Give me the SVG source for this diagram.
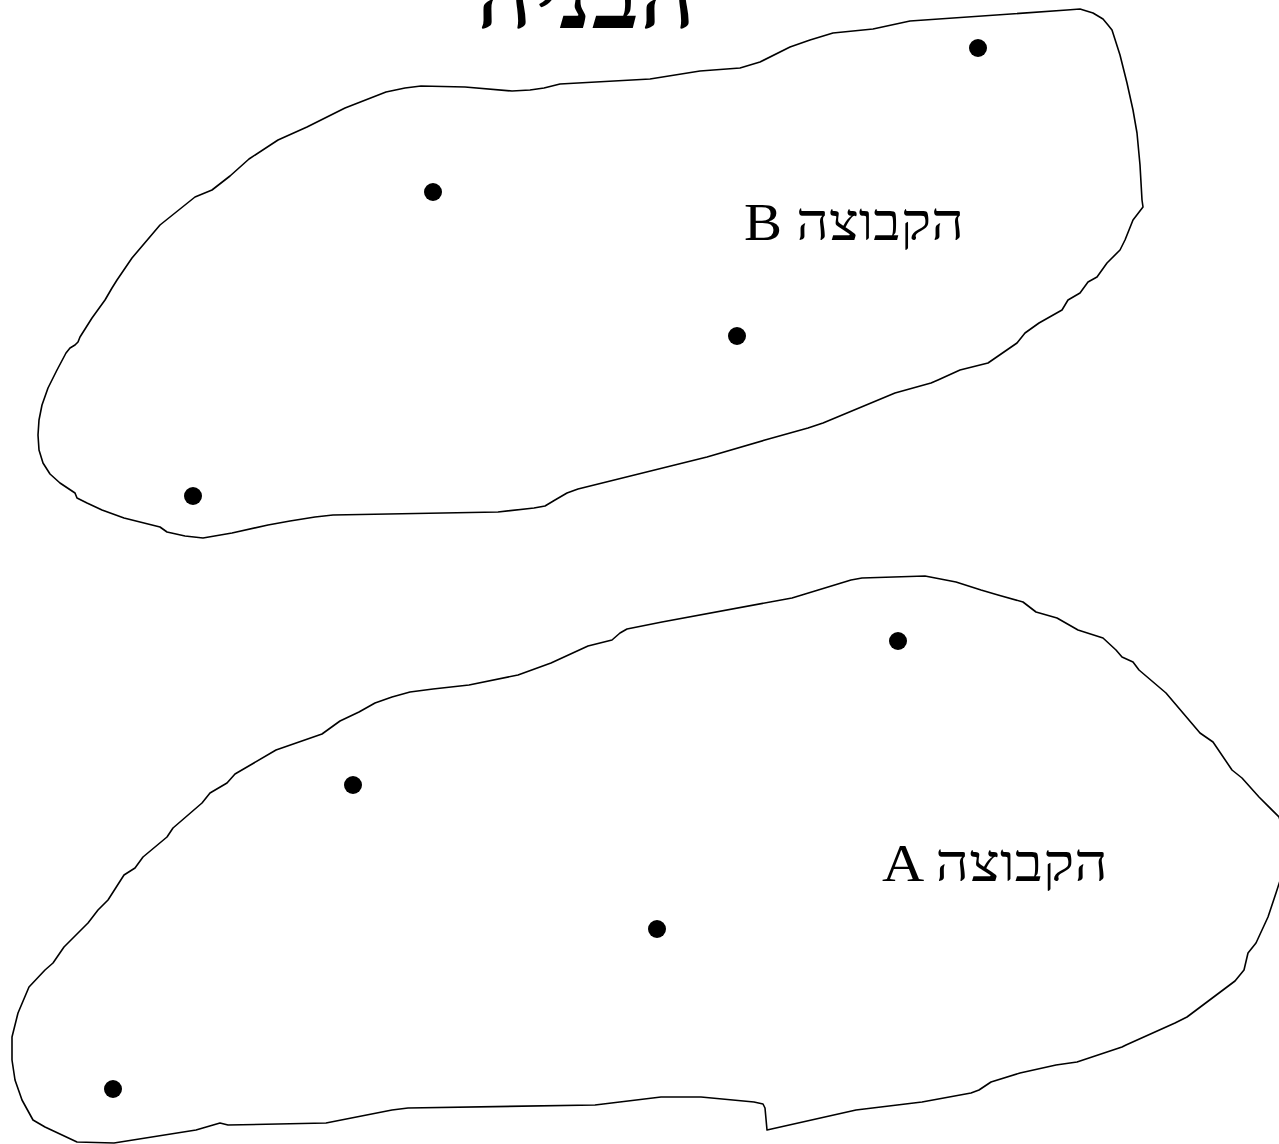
<svg xmlns="http://www.w3.org/2000/svg" width="1279" height="1144" viewBox="0 0 1279 1144">
<style>
.set{fill:none;stroke:#000;stroke-width:1.6;stroke-linejoin:round;stroke-linecap:round}
.pt{fill:#000}
.lbl{font-family:"Liberation Serif","Times New Roman",serif;font-size:53px;fill:#000}
.title{font-family:"Liberation Serif","Times New Roman",serif;font-size:88px;font-weight:bold;fill:#000}
</style>
<rect width="1279" height="1144" fill="#fff"/>
<text class="title" x="476" y="28" textLength="220" lengthAdjust="spacingAndGlyphs">הבניה</text>
<g id="setB">
<path class="set" d="M80,337 L92,318 L105,300 L112,288 L117,280 L132,258 L160,225 L195,197 L212,190 L230,176 L249,159 L278,140 L307,127 L345,108 L386,92 L405,88 L421,86 L465,87 L512,91 L530,90 L544,88 L560,84 L650,79 L700,71 L740,68 L760,62 L790,47 L810,40 L833,33 L873,29 L910,21 L1067,10 L1080,9 L1093,13 L1103,19 L1108,25 L1112,30 L1120,55 L1127,83 L1133,110 L1137,133 L1140,165 L1142,200 L1143,207 L1133,220 L1125,240 L1120,250 L1107,263 L1097,277 L1088,282 L1080,293 L1068,300 L1062,310 L1039,323 L1025,333 L1017,343 L988,363 L960,370 L938,380 L931,383 L895,393 L823,423 L808,428 L765,440 L707,457 L578,489 L567,493 L555,500 L545,506 L534,508 L498,512 L333,515 L315,517 L290,521 L268,525 L232,533 L203,538 L185,536 L167,532 L160,527 L124,518 L102,510 L87,503 L77,498 L75,493 L60,483 L50,474 L43,463 L39,450 L38,435 L39,420 L42,405 L48,388 L57,370 L66,353 L70,348 L75,345 L78,342 Z"/>
<text class="lbl" x="744" y="240" textLength="220" lengthAdjust="spacingAndGlyphs">B הקבוצה</text>
<circle class="pt" cx="978" cy="48" r="9"/>
<circle class="pt" cx="433" cy="192" r="9"/>
<circle class="pt" cx="737" cy="336" r="9"/>
<circle class="pt" cx="193" cy="496" r="9"/>
</g>
<g id="setA">
<path class="set" d="M29,987 L45,970 L53,963 L64,947 L88,923 L98,910 L108,900 L124,875 L135,868 L143,857 L167,837 L173,828 L202,803 L210,793 L227,783 L235,774 L276,750 L322,734 L340,721 L359,712 L375,703 L392,697 L410,692 L433,689 L469,685 L518,675 L551,663 L588,646 L612,640 L620,633 L627,629 L662,622 L792,598 L851,580 L862,578 L925,576 L956,582 L981,590 L998,595 L1023,602 L1036,612 L1057,618 L1078,630 L1103,638 L1116,650 L1122,657 L1133,662 L1139,670 L1166,693 L1200,733 L1213,742 L1232,770 L1242,778 L1259,797 L1279,817 L1290,850 L1276,893 L1268,917 L1256,943 L1248,953 L1244,970 L1235,981 L1223,990 L1187,1017 L1175,1023 L1126,1045 L1122,1047 L1077,1062 L1056,1065 L1020,1073 L991,1082 L979,1090 L971,1093 L922,1102 L856,1110 L767,1130 L765,1108 L763,1104 L754,1102 L701,1097 L661,1097 L595,1105 L408,1108 L392,1110 L326,1123 L228,1125 L220,1123 L196,1130 L114,1143 L77,1142 L45,1127 L33,1120 L22,1100 L15,1080 L12,1060 L12,1037 L18,1013 Z"/>
<text class="lbl" x="882" y="881" textLength="226" lengthAdjust="spacingAndGlyphs">A הקבוצה</text>
<circle class="pt" cx="898" cy="641" r="9"/>
<circle class="pt" cx="353" cy="785" r="9"/>
<circle class="pt" cx="657" cy="929" r="9"/>
<circle class="pt" cx="113" cy="1089" r="9"/>
</g>
<g id="connectors"/>
</svg>
